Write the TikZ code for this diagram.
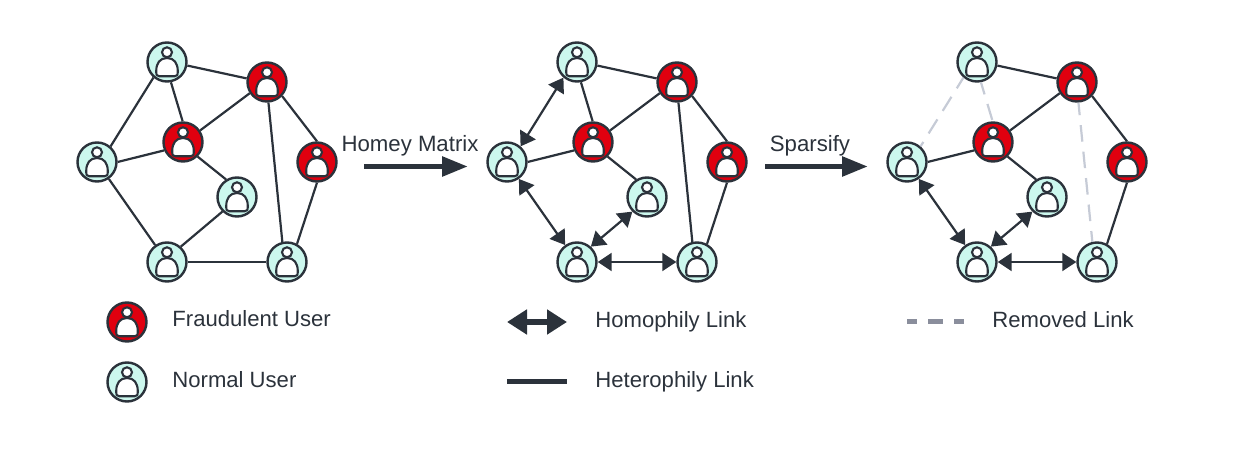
\documentclass[tikz,border=0pt]{standalone}
\usepackage{fontspec}
\setmainfont{Liberation Sans}
\usetikzlibrary{arrows.meta}
\definecolor{ink}{HTML}{2B323B}
\definecolor{fraudred}{HTML}{E0000F}
\definecolor{normalteal}{HTML}{CCF8EE}
\definecolor{removedgray}{HTML}{C6CBD6}
\definecolor{legendgray}{HTML}{8A8E9C}
\newcommand{\usericon}{%
	\begin{scope}[shift={(path picture bounding box.center)},draw=ink,fill=white,line width=1.05pt]
		\filldraw (-7.5,14.3) -- (7.5,14.3) .. controls (10,14.3) and (10.8,13) .. (10.8,9.5) .. controls (10.8,1) and (7,-4) .. (0,-4) .. controls (-7,-4) and (-10.8,1) .. (-10.8,9.5) .. controls (-10.8,13) and (-10,14.3) .. (-7.5,14.3) -- cycle;
		\filldraw (0,-9.7) circle (5);
	\end{scope}}
\tikzset{
	user/.style={circle,draw=ink,line width=1.2pt,minimum size=19.5pt,inner sep=0pt,path picture={\usericon}},
	fraud/.style={user,fill=fraudred},
	normal/.style={user,fill=normalteal},
	hetero/.style={draw=ink,line width=1.1pt},
	homo/.style={draw=ink,line width=1.1pt,{Triangle[length=7pt,width=9pt]}-{Triangle[length=7pt,width=9pt]}},
	removed/.style={draw=removedgray,line width=1.1pt,dash pattern=on 8.3pt off 5pt,dash phase=2pt},
	legendtext/.style={text=ink,font=\fontsize{11.05}{13}\selectfont,anchor=base west,inner sep=0pt},
	steptext/.style={text=ink,font=\fontsize{11.1}{13}\selectfont,anchor=base,inner sep=0pt},
	steparrow/.style={draw=ink,line width=2.8pt,-{Triangle[length=13pt,width=9.5pt]}}
}
\begin{document}
\begin{tikzpicture}[x=0.5pt,y=-0.5pt]
	\useasboundingbox (0,0) rectangle (1238,454);
	%the three graphs
	\foreach \g/\dx in {a/0, b/410, c/810}{
		\foreach \n/\x/\y/\kind in {1/167/62/normal, 2/267/82/fraud, 3/183/142/fraud, 4/97/162/normal, 5/317/162/fraud, 6/237/197/normal, 7/167/262/normal, 8/287/262/normal}{
			\node[\kind] (\g\n) at (\x+\dx, \y){};
		}
	}
	%links of the first graph
	\foreach \u/\p/\v/\q in {1/-10/2/170, 1/-79/3/91, 1/229/4/49, 2/213/3/34, 2/-43/5/90, 2/-86/8/103, 3/204/4/0, 3/-45/6/122, 4/-55/7/125, 5/-90/8/61, 6/225/7/48, 7/0/8/180}{
		\draw[hetero] (a\u.\p)--(a\v.\q);
	}
	%links of the second graph
	\foreach \u/\p/\v/\q in {1/-10/2/170, 1/-79/3/91, 2/213/3/34, 2/-43/5/90, 2/-86/8/103, 3/204/4/0, 3/-45/6/122, 5/-90/8/61}{
		\draw[hetero] (b\u.\p)--(b\v.\q);
	}
	\foreach \u/\p/\v/\q in {1/229/4/49, 4/-55/7/125, 6/225/7/48, 7/0/8/180}{
		\draw[homo] (b\u.\p)--(b\v.\q);
	}
	%links of the third graph
	\foreach \u/\p/\v/\q in {1/-10/2/170, 2/213/3/34, 2/-43/5/90, 3/204/4/0, 3/-45/6/122, 5/-90/8/61}{
		\draw[hetero] (c\u.\p)--(c\v.\q);
	}
	\foreach \u/\p/\v/\q in {4/-55/7/125, 6/225/7/48, 7/0/8/180}{
		\draw[homo] (c\u.\p)--(c\v.\q);
	}
	\foreach \u/\p/\v/\q in {1/229/4/49, 1/-79/3/91, 2/-86/8/103}{
		\draw[removed] (c\u.\p)--(c\v.\q);
	}
	%steps between the graphs
	\node[steptext] (homey) at (410, 152){Homey Matrix};
	\coordinate (homeyfrom) at (364, 166.5);
	\coordinate (homeyto) at (468, 166.5);
	\draw[steparrow] (homeyfrom)--(homeyto);
	\node[steptext] (sparsify) at (810, 152){Sparsify};
	\coordinate (sparsifyfrom) at (765, 166.5);
	\coordinate (sparsifyto) at (868, 166.5);
	\draw[steparrow] (sparsifyfrom)--(sparsifyto);
	%legend
	\node[fraud] (legendfraud) at (127, 322){};
	\node[legendtext] (fraudtext) at (172, 327){Fraudulent User};
	\node[normal] (legendnormal) at (127, 382){};
	\node[legendtext] (normaltext) at (172, 387){Normal User};
	\coordinate (homofrom) at (507, 322);
	\coordinate (homoto) at (567, 322);
	\draw[draw=ink,line width=3pt,{Triangle[length=10pt,width=12pt]}-{Triangle[length=10pt,width=12pt]}] (homofrom)--(homoto);
	\node[legendtext] (homotext) at (595, 328){Homophily Link};
	\coordinate (heterofrom) at (507, 382);
	\coordinate (heteroto) at (567, 382);
	\draw[draw=ink,line width=2.5pt] (heterofrom)--(heteroto);
	\node[legendtext] (heterotext) at (595, 387){Heterophily Link};
	\coordinate (removedfrom) at (907, 322);
	\coordinate (removedto) at (964, 322);
	\draw[draw=legendgray,line width=2.5pt,dash pattern=on 5pt off 5.5pt on 7.5pt off 5.5pt] (removedfrom)--(removedto);
	\node[legendtext] (removedtext) at (992, 328){Removed Link};
\end{tikzpicture}
\end{document}
